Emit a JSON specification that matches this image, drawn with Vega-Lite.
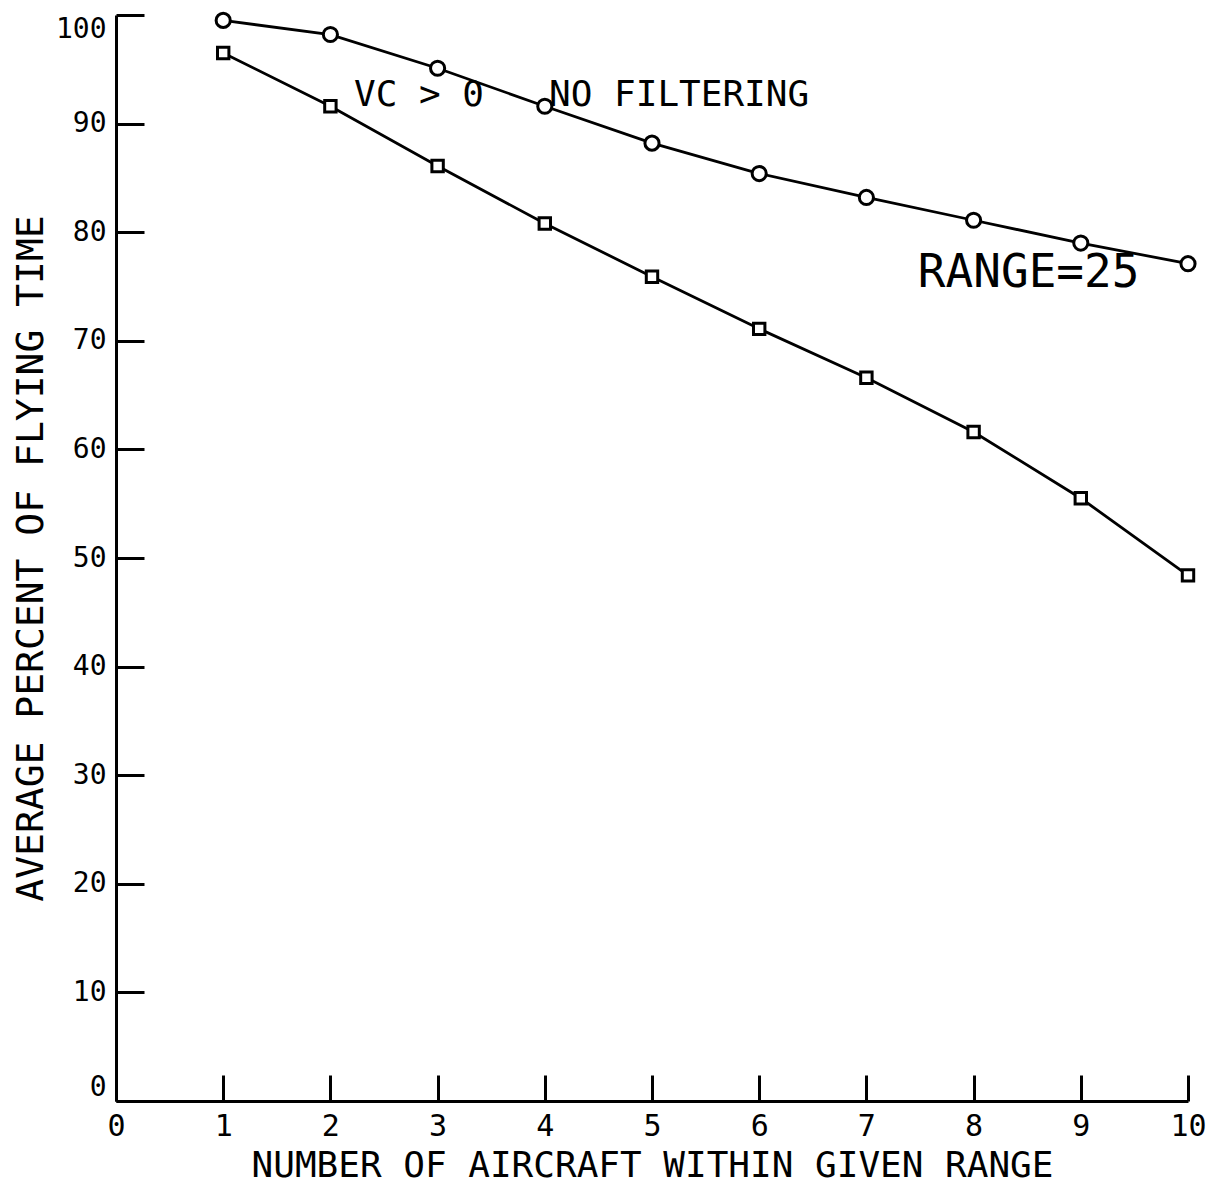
{
  "$schema": "https://vega.github.io/schema/vega-lite/v6.json",
  "autosize": "none",
  "width": 1072,
  "height": 1086,
  "padding": {"left": 116, "top": 15, "right": 22, "bottom": 84},
  "background": "white",
  "config": {
    "view": {"stroke": null},
    "font": "DejaVu Sans Mono",
    "axis": {
      "grid": false,
      "domainColor": "black",
      "domainWidth": 3,
      "tickColor": "black",
      "tickWidth": 3,
      "labelColor": "black",
      "titleColor": "black",
      "labelFont": "DejaVu Sans Mono",
      "titleFont": "DejaVu Sans Mono",
      "titleFontWeight": "normal"
    }
  },
  "datasets": {
    "series": [
      {"n": 1, "pct": 99.5, "curve": "circle"},
      {"n": 2, "pct": 98.2, "curve": "circle"},
      {"n": 3, "pct": 95.1, "curve": "circle"},
      {"n": 4, "pct": 91.6, "curve": "circle"},
      {"n": 5, "pct": 88.2, "curve": "circle"},
      {"n": 6, "pct": 85.4, "curve": "circle"},
      {"n": 7, "pct": 83.2, "curve": "circle"},
      {"n": 8, "pct": 81.1, "curve": "circle"},
      {"n": 9, "pct": 79.0, "curve": "circle"},
      {"n": 10, "pct": 77.1, "curve": "circle"},
      {"n": 1, "pct": 96.5, "curve": "square"},
      {"n": 2, "pct": 91.6, "curve": "square"},
      {"n": 3, "pct": 86.1, "curve": "square"},
      {"n": 4, "pct": 80.8, "curve": "square"},
      {"n": 5, "pct": 75.9, "curve": "square"},
      {"n": 6, "pct": 71.1, "curve": "square"},
      {"n": 7, "pct": 66.6, "curve": "square"},
      {"n": 8, "pct": 61.6, "curve": "square"},
      {"n": 9, "pct": 55.5, "curve": "square"},
      {"n": 10, "pct": 48.4, "curve": "square"}
    ],
    "notes": [
      {"n": 2.22, "pct": 91.6, "label": "VC > 0\u00a0\u00a0\u00a0NO FILTERING", "big": "no"},
      {"n": 7.48, "pct": 75.0, "label": "RANGE=25", "big": "yes"}
    ]
  },
  "encoding": {
    "x": {
      "field": "n",
      "type": "quantitative",
      "scale": {"domain": [0, 10], "nice": false, "zero": true},
      "axis": {
        "title": "NUMBER OF AIRCRAFT WITHIN GIVEN RANGE",
        "values": [0, 1, 2, 3, 4, 5, 6, 7, 8, 9, 10],
        "format": "d",
        "tickSize": -26,
        "labelPadding": 36,
        "labelFontSize": 30,
        "labelFlush": false,
        "titleFontSize": 36,
        "titlePadding": 7
      }
    },
    "y": {
      "field": "pct",
      "type": "quantitative",
      "scale": {"domain": [0, 100], "nice": false},
      "axis": {
        "title": "AVERAGE PERCENT OF FLYING TIME",
        "values": [0, 10, 20, 30, 40, 50, 60, 70, 80, 90, 100],
        "tickSize": -28,
        "labelPadding": 38,
        "labelFontSize": 28,
        "labelFlush": true,
        "titleFontSize": 38,
        "titlePadding": 5
      }
    }
  },
  "layer": [
    {
      "data": {"name": "series"},
      "mark": {"type": "line", "color": "black", "strokeWidth": 2.8},
      "encoding": {"detail": {"field": "curve"}}
    },
    {
      "data": {"name": "series"},
      "mark": {"type": "point", "filled": false, "fill": "white", "fillOpacity": 1, "stroke": "black", "strokeWidth": 3, "opacity": 1},
      "encoding": {
        "shape": {"field": "curve", "type": "nominal", "scale": {"domain": ["circle", "square"], "range": ["circle", "square"]}, "legend": null},
        "size": {"field": "curve", "type": "nominal", "scale": {"domain": ["circle", "square"], "range": [200, 130]}, "legend": null}
      }
    },
    {
      "data": {"name": "notes"},
      "transform": [{"filter": "datum.big == 'no'"}],
      "mark": {"type": "text", "align": "left", "baseline": "alphabetic", "color": "black", "font": "DejaVu Sans Mono", "fontSize": 36},
      "encoding": {"text": {"field": "label"}}
    },
    {
      "data": {"name": "notes"},
      "transform": [{"filter": "datum.big == 'yes'"}],
      "mark": {"type": "text", "align": "left", "baseline": "alphabetic", "color": "black", "font": "DejaVu Sans Mono", "fontSize": 46},
      "encoding": {"text": {"field": "label"}}
    }
  ]
}
